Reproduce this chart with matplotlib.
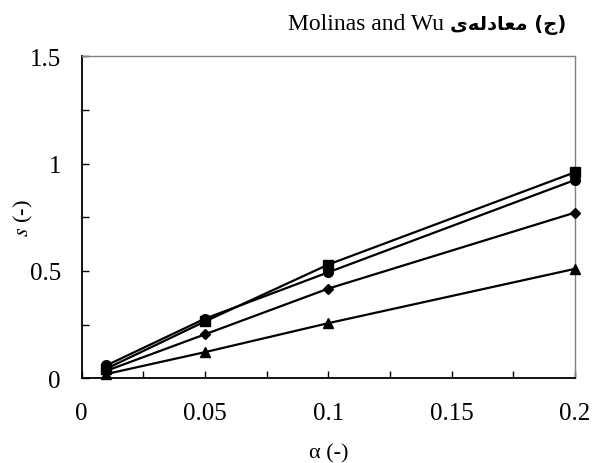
import matplotlib.pyplot as plt
from matplotlib.ticker import MultipleLocator

# alpha values and s for each series
alpha = [0.01, 0.05, 0.1, 0.2]
s_square = [0.045, 0.265, 0.53, 0.96]
s_circle = [0.06, 0.278, 0.494, 0.924]
s_diamond = [0.035, 0.205, 0.418, 0.772]
s_triangle = [0.02, 0.122, 0.257, 0.51]

xticks = [0, 0.05, 0.1, 0.15, 0.2]
xticklabels = ['0', '0.05', '0.1', '0.15', '0.2']
yticks = [0, 0.5, 1, 1.5]
yticklabels = ['0', '0.5', '1', '1.5']

plt.rcParams['font.family'] = ['Liberation Serif', 'DejaVu Sans']
plt.rcParams['mathtext.fontset'] = 'stix'

fig = plt.figure(figsize=(5.95, 4.64), dpi=100)
ax = fig.add_axes([0.1373, 0.1825, 0.8291, 0.694])

for ys, m, ms in [(s_triangle, '^', 7), (s_diamond, 'D', 5.5),
                  (s_circle, 'o', 7), (s_square, 's', 7)]:
  ax.plot(alpha, ys, color='black', lw=1.6, marker=m, markersize=ms,
          markerfacecolor='black', markeredgecolor='black', clip_on=False, zorder=3)

ax.set_xlim(0, 0.2)
ax.set_ylim(0, 1.5)
ax.set_xticks(xticks)
ax.set_xticklabels(xticklabels)
ax.set_yticks(yticks)
ax.set_yticklabels(yticklabels)
ax.xaxis.set_minor_locator(MultipleLocator(0.025))
ax.yaxis.set_minor_locator(MultipleLocator(0.25))
ax.tick_params(which='both', direction='in', length=5, width=1, labelsize=18)
ax.tick_params(axis='x', which='major', pad=17)
ax.tick_params(axis='y', which='major', pad=15)
ax.tick_params(which='both', top=False, right=False)

for side in ['left', 'bottom']:
  ax.spines[side].set_color('black')
  ax.spines[side].set_linewidth(1.3)
for side in ['top', 'right']:
  ax.spines[side].set_color('#808080')
  ax.spines[side].set_linewidth(1.0)

ax.set_xlabel('\u03b1 (-)', fontsize=16, va='baseline')
ax.xaxis.set_label_coords(0.5, (379 - 458) / 322)
ax.set_ylabel('$s$ (-)', fontsize=16, va='center')
ax.yaxis.set_label_coords((24 - 82) / 493, 0.5)

# title: Persian part in presentation forms (visual order), Latin part to its left
fa = fig.text(566 / 595, 1 - 25 / 464, '\uFEEF\uFEEA\uFEDF\uFEA9\uFE8E\uFECC\uFEE3 (\uFE9D)',
              ha='right', va='center', fontsize=14, fontweight='bold',
              family=['DejaVu Sans'])
ax.annotate('Molinas and Wu ', xy=(0, 0.5), xycoords=fa, ha='right', va='center',
            fontsize=17, annotation_clip=False)

fig.savefig('out.png', dpi=100)
